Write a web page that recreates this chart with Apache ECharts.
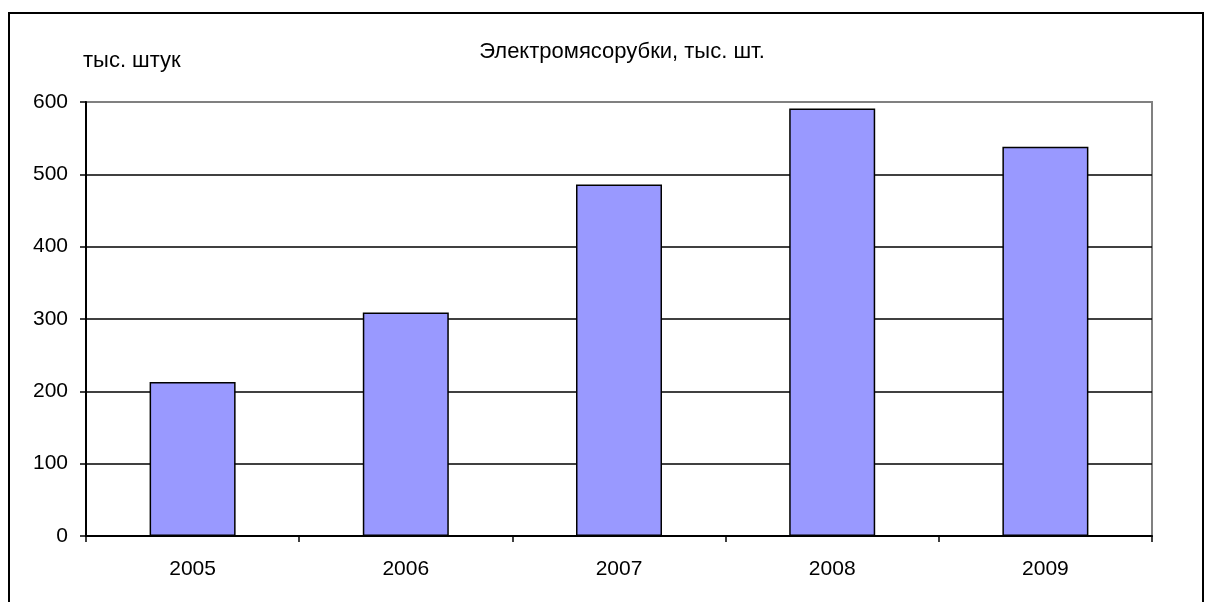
<!DOCTYPE html>
<html>
<head>
<meta charset="utf-8">
<script src="https://cdn.jsdelivr.net/npm/echarts@6/dist/echarts.min.js"></script>
<style>
  html, body { margin: 0; padding: 0; background: #ffffff; }
  #chart { width: 1213px; height: 602px; }
</style>
</head>
<body>
<div id="chart"></div>
<script>
// Production of electric meat grinders by year, thousand units
const years = ['2005', '2006', '2007', '2008', '2009'];
const units = [213, 309, 486, 591, 538];
const yTicks = [0, 100, 200, 300, 400, 500, 600];

const chartTitle = 'Электромясорубки, тыс. шт.';
const yAxisTitle = 'тыс. штук';

const font = '"Liberation Sans", Arial, sans-serif';

// gridlines are black, the top one belongs to the grey plot border
const splitColors = yTicks.map((v, i) => (i === yTicks.length - 1 ? '#808080' : '#000000'));

const chart = echarts.init(document.getElementById('chart'), null, { renderer: 'canvas' });

chart.setOption({
  animation: false,
  backgroundColor: '#ffffff',
  title: {
    text: chartTitle,
    left: 617,
    textAlign: 'center',
    top: 36,
    textStyle: { fontFamily: font, fontSize: 22, fontWeight: 'normal', color: '#000000' }
  },
  graphic: [
    {
      // outer frame of the chart area
      type: 'polyline',
      shape: { points: [[9, 620], [9, 13], [1203, 13], [1203, 620]] },
      style: { stroke: '#000000', lineWidth: 2, fill: null },
      z: 10
    },
    {
      type: 'text',
      left: 83,
      top: 50,
      style: { text: yAxisTitle, font: '22px ' + font, fill: '#000000' }
    }
  ],
  grid: {
    left: 86,
    right: 61,
    top: 102,
    bottom: 66,
    show: true,
    borderColor: '#808080',
    borderWidth: 2,
    containLabel: false
  },
  xAxis: {
    type: 'category',
    data: years,
    boundaryGap: true,
    axisLine: { show: true, lineStyle: { color: '#000000', width: 2 } },
    axisTick: { show: true, length: 6, lineStyle: { color: '#000000', width: 1.5 } },
    axisLabel: { margin: 23, fontFamily: font, fontSize: 21, color: '#000000' },
    splitLine: { show: false }
  },
  yAxis: {
    type: 'value',
    min: yTicks[0],
    max: yTicks[yTicks.length - 1],
    interval: 100,
    axisLine: { show: true, lineStyle: { color: '#000000', width: 2 } },
    axisTick: { show: true, length: 6, lineStyle: { color: '#000000', width: 1.5 } },
    axisLabel: { margin: 18, fontFamily: font, fontSize: 21, color: '#000000' },
    splitLine: { show: true, lineStyle: { color: splitColors, width: 1.5 } }
  },
  series: [{
    type: 'bar',
    data: units,
    barWidth: 86,
    itemStyle: { color: '#9999ff', borderColor: '#000000', borderWidth: 1.5 }
  }]
});
</script>
</body>
</html>
